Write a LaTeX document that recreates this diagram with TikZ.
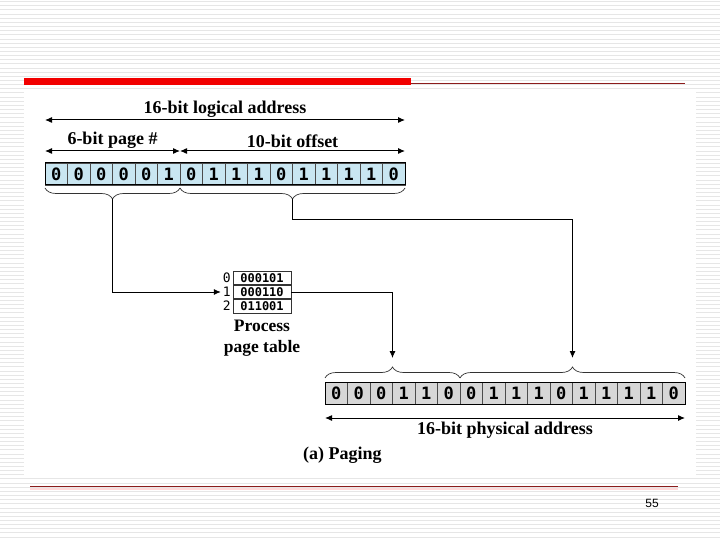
\documentclass[tikz,border=0pt]{standalone}
\usepackage{fontspec}
\setmainfont{Liberation Serif}
\setsansfont{Liberation Sans}
\newfontfamily\bitfont{DejaVu Sans Mono}
\usepackage{xcolor}
\usetikzlibrary{positioning,arrows.meta,decorations.pathreplacing}
\definecolor{CellBlue}{HTML}{C9E6F1}
\definecolor{CellGray}{HTML}{D7D7D7}
\definecolor{SlideRed}{HTML}{F20000}
\definecolor{RuleRed}{HTML}{8C1C1C}
\definecolor{StripeGray}{HTML}{E6E6E6}

\begin{document}
\begin{tikzpicture}[x=1pt, y=-1pt,
    bitbox/.style={draw=black!70, minimum width=22.5pt, minimum height=22pt, inner sep=0pt, outer sep=0pt,
      font=\bitfont\bfseries\fontsize{17}{17}\selectfont},
    logbit/.style={bitbox, fill=CellBlue},
    physbit/.style={bitbox, fill=CellGray},
    ptrow/.style={draw=black!80, minimum width=58pt, minimum height=14pt, inner sep=0pt, outer sep=0pt,
      font=\bitfont\bfseries\fontsize{12}{12}\selectfont},
    ptidx/.style={font=\bitfont\fontsize{13}{13}\selectfont, inner sep=0pt},
    lbl/.style={font=\bfseries\fontsize{18}{20}\selectfont, inner sep=1pt, align=center},
    dimarr/.style={{Latex[length=7pt,width=6pt]}-{Latex[length=7pt,width=6pt]}, line width=1pt},
    arr/.style={-{Latex[length=7pt,width=6pt]}, line width=0.8pt},
    brc/.style={decorate, decoration={brace, amplitude=11pt}, line width=0.7pt, draw=black!80},
    stripe/.style={draw=StripeGray, line width=0.6pt}
  ]
    \useasboundingbox (0,0) rectangle (720,540);

    % slide background
    \fill[white] (0,0) rectangle (720,540);
    \foreach \k in {0,...,130}
      \draw[stripe] (0,{\k*4.15+1.5}) -- (720,{\k*4.15+1.5});
    \fill[white] (24,90) rectangle (696,476);
    \fill[SlideRed] (24,78) rectangle (411,85);
    \draw[RuleRed, line width=1pt] (411,84) -- (685,84);
    \draw[red!15, line width=2pt] (30,488.5) -- (678,488.5);
    \draw[RuleRed, line width=1pt] (30,486) -- (678,486);
    \node[font=\sffamily\fontsize{12}{12}\selectfont] (pgnum) at (652,503) {55};

    % logical address
    \node[logbit] (l1) at (56.25,174) {0};
    \foreach \b [count=\i from 2, evaluate=\i as \j using int(\i-1)] in {0,0,0,0,1,0,1,1,1,0,1,1,1,1,0}
      \node[logbit, right=0pt of l\j] (l\i) {\b};
    \draw[line width=1pt] (l1.north west) rectangle (l16.south east);

    \draw[dimarr] ([yshift=43pt]l1.north west) -- ([yshift=43pt]l16.north east)
      node[midway, above=1.5pt, lbl] (logname) {16-bit logical address};
    \draw[dimarr] ([yshift=12pt]l1.north west) -- ([yshift=12pt]l6.north east)
      node[midway, above=1.5pt, lbl] (pagename) {6-bit page \#};
    \draw[dimarr] ([yshift=12pt]l7.north west) -- ([yshift=12pt]l16.north east)
      node[midway, above=1.5pt, lbl] (offname) {10-bit offset};

    \draw[brc, decoration={mirror}] ([yshift=-3pt]l1.south west) -- ([yshift=-3pt]l6.south east)
      coordinate[midway, yshift=-11pt] (pagetip);
    \draw[brc, decoration={mirror}] ([yshift=-3pt]l7.south west) -- ([yshift=-3pt]l16.south east)
      coordinate[midway, yshift=-11pt] (offtip);

    % page table
    \node[ptrow] (pt0) at (262,278) {000101};
    \node[ptrow, below=0pt of pt0] (pt1) {000110};
    \node[ptrow, below=0pt of pt1] (pt2) {011001};
    \draw[line width=1.8pt, black!80] (pt1.north west) -- (pt1.north east);
    \draw[line width=1.8pt, black!80] (pt1.south west) -- (pt1.south east);
    \node[ptidx, left=2pt of pt0] (ix0) {0};
    \node[ptidx, left=2pt of pt1] (ix1) {1};
    \node[ptidx, left=2pt of pt2] (ix2) {2};
    \node[lbl, font=\bfseries\fontsize{17.5}{21}\selectfont, below=6pt of pt2] (ptcap) {Process\\page table};

    % physical address
    \node[physbit] (p1) at (336.25,393) {0};
    \foreach \b [count=\i from 2, evaluate=\i as \j using int(\i-1)] in {0,0,1,1,0,0,1,1,1,0,1,1,1,1,0}
      \node[physbit, right=0pt of p\j] (p\i) {\b};
    \draw[line width=1pt] (p1.north west) rectangle (p16.south east);

    \draw[brc] ([yshift=4pt]p1.north west) -- ([yshift=4pt]p6.north east)
      coordinate[midway, yshift=11pt] (frametip);
    \draw[brc] ([yshift=4pt]p7.north west) -- ([yshift=4pt]p16.north east)
      coordinate[midway, yshift=11pt] (offdst);

    \draw[dimarr] ([yshift=-14pt]p1.south west) -- ([yshift=-14pt]p16.south east)
      node[midway, below=3pt, lbl] (physname) {16-bit physical address};
    \node[lbl, anchor=west] (figcap) at (302,455) {(a) Paging};

    % connectors
    \draw[arr, shorten >=2pt] (pagetip) |- (ix1.west);
    \draw[arr, shorten >=9pt] (pt1.east) -| (frametip);
    \draw[arr, line width=1pt, shorten >=9pt] (offtip) -- ++(0,21) -| (offdst);
  \end{tikzpicture}
\end{document}
